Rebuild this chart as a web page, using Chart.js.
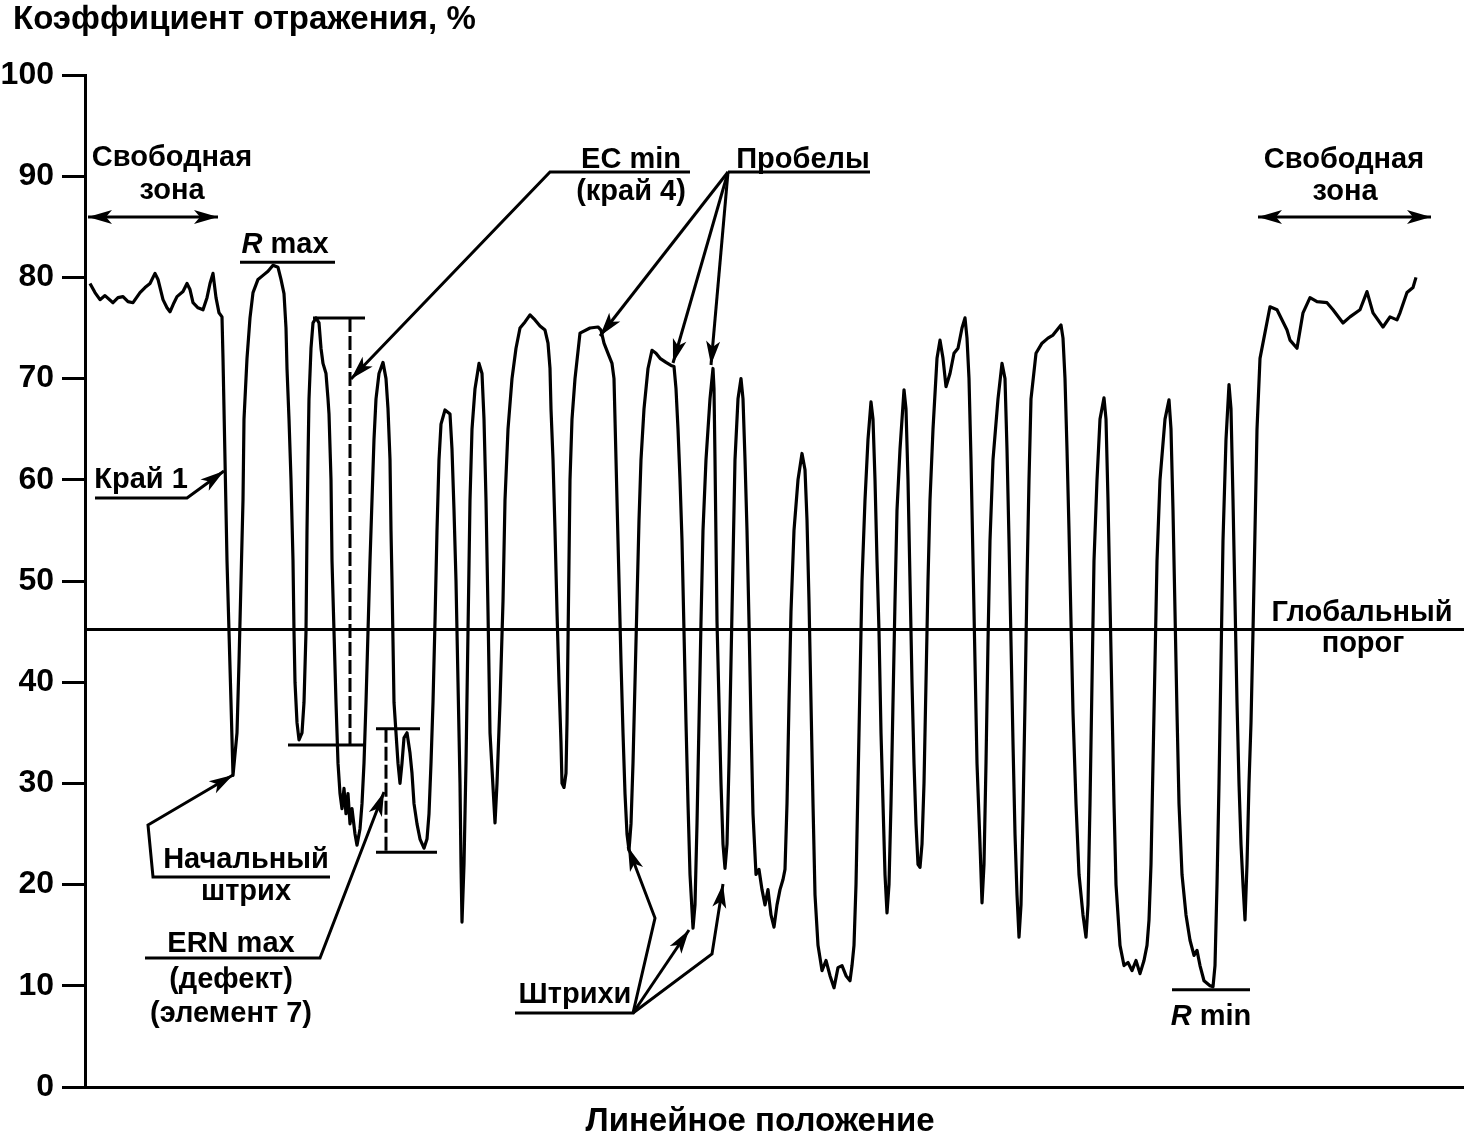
<!DOCTYPE html>
<html><head><meta charset="utf-8">
<script src="https://cdn.jsdelivr.net/npm/chart.js@4.4.1/dist/chart.umd.min.js"></script>
<style>html,body{margin:0;padding:0;background:#fff;}canvas{display:block;}</style>
</head><body>
<canvas id="c" width="1464" height="1135"></canvas>
<script>
// ---- Data ----
// Scan position (arbitrary linear units, 0 = start of axis)
const position = [
5,10,15,20,28,33,38,43,48,55,60,65,70,73,78,82,85,89,92,98,102,105,108,113,118,122,125,128,131,134,137,
138,140,142,144,146,148,
152,154,156,158,159,162,165,168,173,178,183,188,193,196,199,201,202,204,206,208,209,210,212,214,
217,219,221,222,223,224,226,228,231,234,236,238,241,243,244,246,247,249,251,253,255,257,259,261,263,265,267,270,272,275,277,
279,281,283,285,287,289,291,294,298,301,303,305,306,307,308,309,311,313,315,317,319,322,325,327,329,332,335,339,342,344,
346,348,350,352,354,356,360,365,367,369,371,373,375,376,377,379,381,383,385,387,390,394,397,399,401,403,405,
410,412,415,418,420,423,427,431,435,440,445,450,455,460,463,465,466,468,470,472,474,476,477,
479,481,482,483,484,485,487,490,495,505,513,516,519,523,527,529,530,532,534,536,538,540,542,
544,546,548,550,552,554,556,559,563,567,571,575,581,586,589,591,593,595,597,599,601,603,605,
608,610,612,614,616,618,621,625,628,629,630,631,632,634,636,638,640,642,644,646,648,650,653,
656,658,660,662,664,666,668,671,674,677,680,683,686,689,692,695,698,700,702,704,706,709,713,
717,720,722,724,726,728,730,733,737,741,745,749,753,757,761,765,767,769,771,773,775,777,780,783,
786,788,790,792,794,796,798,800,802,804,806,808,810,812,815,819,821,823,825,827,829,831,833,
835,837,839,841,843,845,848,852,855,858,861,865,869,873,877,880,882,884,886,888,890,892,895,
897,899,901,903,905,908,913,917,920,922,924,926,928,930,932,934,936,938,940,942,944,946,
951,957,963,968,972,976,978,980,982,984,986,988,991,994,998,1001,1003,1005,1007,1009,1012,1015,
1019,1021,1023,1025,1027,1029,1031,1035,1039,1043,1047,1051,1055,1059,1062,1064,1066,1068,1070,1072,1075,1080,
1084,1086,1088,1090,1092,1094,1097,1101,1105,1109,1112,1115,1119,1125,1128,1130,1132,1134,1136,1138,1141,
1144,1146,1148,1150,1152,1154,1156,1158,1160,1162,1164,1166,1168,1170,1172,1175,
1185,1192,1202,1205,1212,1218,1225,1232,1242,1248,1258,1265,1275,1282,1288,1298,1305,1312,1315,1322,1328,1331
];
// Reflectance, %
const reflectance = [
79.4,78.5,77.8,78.2,77.5,78.0,78.1,77.6,77.5,78.5,79.0,79.4,80.4,79.8,77.8,77.0,76.6,77.5,78.1,78.6,79.4,78.8,77.5,77.0,76.8,78.0,79.4,80.4,78.0,76.5,76.1,
72,62,52,45,38,30.8,
35,42,50,58,66,72,76,78.5,79.8,80.2,80.6,81.2,81.0,79.8,78.4,75,71,66,60,52,45,40,36,34.3,
35,38,45,55,62,68,73,75.5,76,75.5,73,71.5,70.5,68,66.5,60,52,45,38,32,29,27.5,29.5,27,29,26,27.5,25,23.9,25.5,28,
32,38,45,52,58,64,68,70.5,71.6,70,67,62,55,50,44,38,35,32,30,32,34.5,35,33,31,28,26,24.5,23.6,24.5,27,
32,38,46,55,62,65.5,66.9,66.5,63,57,50,40,30,22,16.3,22,32,45,58,65,69,71.5,70.5,66,58,47,35,26.1,
30,38,48,58,65,70,73,75,75.6,76.3,75.8,75.2,74.8,73.5,71,67,62,55,47,40,34,30,29.6,
31,36,44,52,60,66,70,74.5,75,75.1,74.8,73.5,72.5,71.5,70,66,58,50,42,35,29,25,23.4,
26,32,40,48,56,62,67,71,72.8,72.5,72,71.6,71.3,71.2,69,65,60,54,45,36,28,21,15.7,
18,26,36,46,55,62,68,71,69,62,54,46,38,30,24,21.6,24,32,42,52,62,68,70,
68,62,55,46,36,27,21,21.5,19.5,18,19.5,17,15.8,18,19.5,20.5,21.5,28,38,47,55,60,62.6,
61,56,48,38,28,19,14,11.5,12.5,11,9.8,11.8,12.0,11,10.5,12,14,20,30,40,50,58,64,67.7,
66,60,52,45,35,28,21,17.2,20,28,38,48,57,63,68.9,67,60,50,40,32,26,22,21.7,
24,30,40,50,58,65,72,73.8,72,69.2,70.5,72.5,73,75,76,74,70,62,52,42,32,24,18.2,
22,32,44,54,62,68,71.5,70,63,54,44,34,25,19,14.8,18,27,38,50,60,68,72.5,
73.5,74,74.3,74.8,75.3,74,70,63,55,46,37,28,21,17,14.8,18,28,40,52,60,66,68.1,
66,58,48,38,28,20,14,12,12.3,11.5,12.5,11.2,12.5,14,16.5,22,32,42,52,60,66,67.9,
65,57,47,37,28,21,17,14.5,13,13.5,12,10.5,10,9.9,12,20,30,42,54,64,69.4,
67,58,48,38,30,24,20,16.5,22,30,36,45,55,65,72,77.1,
76.8,74.8,73.8,73.0,76.5,78.0,77.6,77.5,76.8,75.5,76.1,76.8,78.6,76.5,75.1,76.1,75.8,76.5,78.5,79.0,80.0,80.4
];
// Y-axis tick values
const yTickValues = [0,10,20,30,40,50,60,70,80,90,100];
// Axis extent (position units)
const axisRange = [0, 1379];
// Measured levels shown on the chart
const globalThreshold = 45.2;   // Глобальный порог
const rMaxLevel = 81.5;         // R max
const rMinLevel = 9.6;          // R min
const ecMinLevels = [76.0, 33.8];   // EC min: top, bottom
const ernMaxLevels = [35.4, 23.2];  // ERN max: top, bottom
// Horizontal spans (position units) of the measurement marks
const rMaxSpan = [155, 250];
const rMinSpan = [1087, 1165];
const ecTopSpan = [228, 280], ecBottomSpan = [203, 280], ecDashPos = 265;
const ernTopSpan = [291, 335], ernBottomSpan = [291, 352], ernDashPos = 301;

// ---- Chart ----
const FAMILY = "'Liberation Sans', Arial, Helvetica, sans-serif";
Chart.defaults.font.family = FAMILY;
Chart.defaults.color = '#000';

const seg = (x1, x2, y, extra) => Object.assign({
  data: [{x: x1, y: y}, {x: x2, y: y}], borderColor: '#000', borderWidth: 3,
  pointRadius: 0, tension: 0, fill: false
}, extra || {});
const vseg = (x, y1, y2, extra) => Object.assign({
  data: [{x: x, y: y1}, {x: x, y: y2}], borderColor: '#000', borderWidth: 3,
  pointRadius: 0, tension: 0, fill: false
}, extra || {});

const FONT = "bold 29px " + FAMILY;
const FONT_I = "italic bold 29px " + FAMILY;
const FONT_BIG = "bold 33px " + FAMILY;

function arrowHead(ctx, x1, y1, x2, y2, len, half) {
  const a = Math.atan2(y2 - y1, x2 - x1);
  ctx.beginPath();
  ctx.moveTo(x2, y2);
  ctx.lineTo(x2 - len * Math.cos(a) + half * Math.sin(a), y2 - len * Math.sin(a) - half * Math.cos(a));
  ctx.lineTo(x2 - len * Math.cos(a) * 0.75, y2 - len * Math.sin(a) * 0.75);
  ctx.lineTo(x2 - len * Math.cos(a) - half * Math.sin(a), y2 - len * Math.sin(a) + half * Math.cos(a));
  ctx.closePath();
  ctx.fill();
}
function leader(ctx, pts, head) {
  ctx.beginPath();
  ctx.moveTo(pts[0][0], pts[0][1]);
  for (let i = 1; i < pts.length; i++) ctx.lineTo(pts[i][0], pts[i][1]);
  ctx.stroke();
  if (head) {
    const n = pts.length;
    arrowHead(ctx, pts[n-2][0], pts[n-2][1], pts[n-1][0], pts[n-1][1], 24, 7);
  }
}
function text(ctx, s, x, y, align) {
  ctx.textAlign = align || 'center';
  ctx.fillText(s, x, y);
}
function rLabel(ctx, rest, cx, y) {
  ctx.font = FONT_I; const w1 = ctx.measureText('R').width;
  ctx.font = FONT; const w2 = ctx.measureText(rest).width;
  const x0 = cx - (w1 + w2) / 2;
  ctx.textAlign = 'left';
  ctx.font = FONT_I; ctx.fillText('R', x0, y);
  ctx.font = FONT; ctx.fillText(rest, x0 + w1, y);
}

const annotations = {
  id: 'annotations',
  afterDraw(chart) {
    const ctx = chart.ctx;
    ctx.save();
    ctx.fillStyle = '#000'; ctx.strokeStyle = '#000';
    ctx.lineWidth = 3; ctx.lineCap = 'butt'; ctx.lineJoin = 'miter';
    ctx.textBaseline = 'alphabetic';
    // axis titles
    ctx.font = FONT_BIG;
    text(ctx, 'Коэффициент отражения, %', 13, 29, 'left');
    text(ctx, 'Линейное положение', 760, 1131);
    ctx.font = FONT;
    // quiet zones
    text(ctx, 'Свободная', 172, 166); text(ctx, 'зона', 172, 199);
    text(ctx, 'Свободная', 1344, 168); text(ctx, 'зона', 1345, 200);
    leader(ctx, [[150, 217], [88, 217]], true);
    leader(ctx, [[150, 217], [218, 217]], true);
    leader(ctx, [[1340, 217], [1258, 217]], true);
    leader(ctx, [[1340, 217], [1431, 217]], true);
    // R max / R min
    rLabel(ctx, ' max', 285, 253);
    rLabel(ctx, ' min', 1211, 1025);
    // EC min
    text(ctx, 'EC min', 631, 168); text(ctx, '(край 4)', 631, 200);
    leader(ctx, [[690, 172], [550, 172], [351, 379]], true);
    // Пробелы
    text(ctx, 'Пробелы', 803, 168);
    leader(ctx, [[870, 172], [728, 172]], false);
    leader(ctx, [[728, 172], [600, 336]], true);
    leader(ctx, [[728, 172], [673, 363]], true);
    leader(ctx, [[728, 172], [711, 365]], true);
    // Край 1
    text(ctx, 'Край 1', 141, 488);
    leader(ctx, [[95, 498], [187, 498], [224, 471]], true);
    // Начальный штрих
    text(ctx, 'Начальный', 246, 868); text(ctx, 'штрих', 246, 900);
    leader(ctx, [[330, 877], [153, 877], [148, 825], [233, 775]], true);
    // ERN max
    text(ctx, 'ERN max', 231, 952); text(ctx, '(дефект)', 231, 988); text(ctx, '(элемент 7)', 231, 1022);
    leader(ctx, [[145, 958], [320, 958], [384, 792]], true);
    // Штрихи
    text(ctx, 'Штрихи', 575, 1003);
    leader(ctx, [[515, 1013], [633, 1013], [655, 918], [628, 847]], true);
    leader(ctx, [[633, 1013], [689, 930]], true);
    leader(ctx, [[633, 1013], [712, 954], [723, 884]], true);
    // Global threshold
    text(ctx, 'Глобальный', 1362, 621); text(ctx, 'порог', 1363, 652);
    ctx.restore();
  }
};

new Chart(document.getElementById('c'), {
  type: 'line',
  data: {
    datasets: [
      { data: position.map((x, i) => ({x: x, y: reflectance[i]})), borderColor: '#000', borderWidth: 3.2,
        pointRadius: 0, tension: 0, fill: false, borderJoinStyle: 'round' },
      seg(axisRange[0], axisRange[1], globalThreshold),
      seg(rMaxSpan[0], rMaxSpan[1], rMaxLevel),
      seg(rMinSpan[0], rMinSpan[1], rMinLevel),
      seg(ecTopSpan[0], ecTopSpan[1], ecMinLevels[0]),
      seg(ecBottomSpan[0], ecBottomSpan[1], ecMinLevels[1]),
      vseg(ecDashPos, ecMinLevels[0], ecMinLevels[1], {borderDash: [14, 4]}),
      seg(ernTopSpan[0], ernTopSpan[1], ernMaxLevels[0]),
      seg(ernBottomSpan[0], ernBottomSpan[1], ernMaxLevels[1]),
      vseg(ernDashPos, ernMaxLevels[0], ernMaxLevels[1], {borderDash: [14, 4]})
    ]
  },
  options: {
    responsive: false, animation: false, devicePixelRatio: 1,
    layout: {padding: {top: 75, left: 0, right: 0, bottom: 0}},
    plugins: {legend: {display: false}, tooltip: {enabled: false}, title: {display: false}},
    scales: {
      x: {
        type: 'linear', min: axisRange[0], max: axisRange[1],
        ticks: {display: false}, grid: {display: false},
        border: {display: true, color: '#000', width: 3},
        afterFit(s) { s.height = 48; }
      },
      y: {
        min: 0, max: 100,
        afterBuildTicks(s) { s.ticks = yTickValues.map(v => ({value: v})); },
        ticks: {color: '#000', font: {size: 32, weight: 'bold'}, padding: 8},
        grid: {display: true, drawOnChartArea: false, drawTicks: true, tickLength: 23, tickWidth: 3, color: '#000'},
        border: {display: true, color: '#000', width: 3},
        afterFit(s) { s.width = 85; }
      }
    }
  },
  plugins: [annotations]
});
</script>
</body></html>
